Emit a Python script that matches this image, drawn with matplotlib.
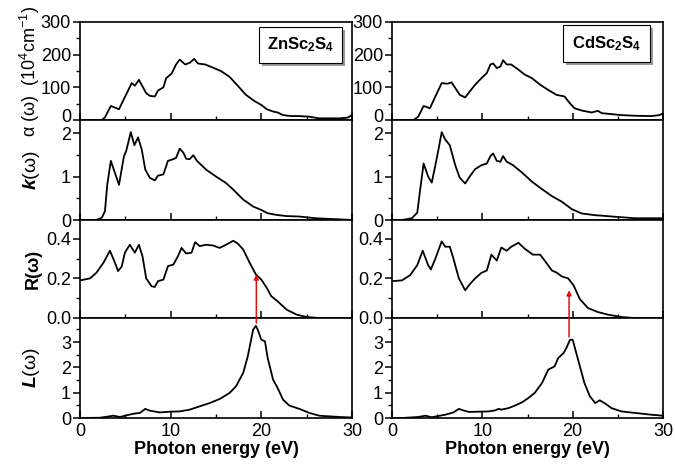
import matplotlib
matplotlib.use("Agg")
import matplotlib.pyplot as plt
import matplotlib.transforms as mtransforms
from matplotlib.patches import Rectangle, ConnectionPatch
from matplotlib.ticker import MultipleLocator, FormatStrFormatter

plt.rcParams['font.family'] = ['Liberation Sans', 'DejaVu Sans']
plt.rcParams['mathtext.fontset'] = 'custom'
plt.rcParams['mathtext.rm'] = 'Liberation Sans'
plt.rcParams['mathtext.it'] = 'Liberation Sans:italic'
plt.rcParams['mathtext.bf'] = 'Liberation Sans:bold'
plt.rcParams['mathtext.bfit'] = 'Liberation Sans:bold:italic'

# ---------------- data: ZnSc2S4 ----------------
zn_alpha_E = [0, 2.4, 2.75, 3.4, 4.3, 5.7, 6.05, 6.5, 7.3, 7.7, 8.25, 8.6, 9.2, 9.5, 10.1, 10.6, 11.0,
              11.6, 12.1, 12.6, 13.0, 13.8, 14.7, 15.6, 16.5, 17.3, 18.3, 19.3, 20.0, 20.6, 21.3, 21.8,
              22.4, 23.3, 24.2, 25.3, 26.4, 28.6, 29.5, 30]
zn_alpha = [0, 0, 8, 43, 33, 113, 105, 123, 82, 74, 72, 90, 100, 128, 142, 170, 185,
            170, 175, 187, 173, 170, 160, 149, 132, 108, 77, 57, 46, 33, 26, 23,
            15, 12, 12, 10, 5, 5, 7, 15]

zn_k_E = [0, 1.8, 2.4, 2.75, 3.0, 3.4, 4.3, 4.85, 5.1, 5.6, 6.0, 6.4, 6.8, 7.2, 7.7, 8.25, 8.6, 9.2,
          9.7, 10.3, 10.6, 11.0, 11.4, 11.7, 12.1, 12.5, 12.9, 13.9, 15.0, 16.1, 16.9, 18.0, 19.1,
          20.0, 20.7, 21.7, 22.8, 24.2, 26.0, 28.6, 30]
zn_k = [0, 0, 0.05, 0.2, 0.8, 1.36, 0.81, 1.47, 1.59, 2.02, 1.72, 1.9, 1.63, 1.16, 0.97, 0.91, 1.02, 1.05,
        1.36, 1.40, 1.43, 1.64, 1.55, 1.41, 1.40, 1.49, 1.36, 1.16, 1.0, 0.85, 0.7, 0.47, 0.31,
        0.23, 0.155, 0.116, 0.09, 0.08, 0.04, 0.015, 0.0]

zn_R_E = [0, 1.1, 1.8, 2.6, 3.3, 3.85, 4.2, 4.6, 4.95, 5.5, 6.05, 6.5, 6.9, 7.3, 7.9, 8.25, 8.6, 9.2,
          9.7, 10.3, 10.8, 11.2, 11.7, 12.3, 12.7, 13.2, 13.9, 14.7, 15.4, 16.1, 16.9, 17.4, 18.0,
          18.7, 19.4, 20.0, 20.6, 21.1, 21.8, 22.8, 23.9, 25.0, 26.4, 30]
zn_R = [0.19, 0.20, 0.228, 0.28, 0.34, 0.28, 0.237, 0.26, 0.33, 0.37, 0.33, 0.37, 0.31, 0.20, 0.16, 0.157,
        0.186, 0.194, 0.262, 0.27, 0.312, 0.354, 0.326, 0.33, 0.383, 0.363, 0.37, 0.366, 0.354, 0.37,
        0.39, 0.376, 0.346, 0.28, 0.22, 0.194, 0.152, 0.11, 0.084, 0.042, 0.017, 0.005, 0.0, 0.0]

zn_L_E = [0, 2.2, 3.7, 4.4, 5.9, 6.6, 7.2, 7.7, 8.8, 9.9, 11.0, 12.1, 13.2, 14.3, 15.4, 16.5, 17.2,
          18.0, 18.5, 19.1, 19.4, 19.6, 20.0, 20.4, 20.7, 21.3, 21.8, 22.4, 23.1, 24.2, 25.3, 26.4,
          28.6, 30]
zn_L = [0, 0.01, 0.09, 0.04, 0.17, 0.2, 0.36, 0.29, 0.22, 0.25, 0.26, 0.33, 0.46, 0.59, 0.75, 0.99, 1.25,
        1.78, 2.43, 3.49, 3.64, 3.49, 3.09, 3.03, 2.37, 1.51, 1.18, 0.72, 0.49, 0.36, 0.2, 0.09,
        0.04, 0.02]

# ---------------- data: CdSc2S4 ----------------
cd_alpha_E = [0, 2.4, 2.9, 3.5, 4.2, 4.8, 5.5, 6.1, 6.6, 7.0, 7.5, 8.1, 8.6, 9.2, 9.9, 10.5, 10.9, 11.2,
              11.6, 12.0, 12.3, 12.7, 13.2, 14.0, 14.7, 15.5, 16.4, 17.3, 18.2, 19.1, 19.7, 20.2, 21.0,
              22.1, 22.8, 23.2, 24.3, 25.4, 26.9, 28.7, 29.6, 30]
cd_alpha = [0, 0, 10, 43, 36, 72, 113, 111, 115, 98, 77, 69, 87, 108, 128, 144, 170, 173,
            159, 164, 183, 170, 170, 154, 139, 128, 108, 92, 77, 72, 51, 36, 29,
            23, 28, 21, 18, 15, 13, 12, 15, 20]

cd_k_E = [0, 1.1, 2.2, 2.8, 3.1, 3.5, 4.0, 4.4, 4.8, 5.2, 5.5, 5.9, 6.4, 7.0, 7.5, 8.1, 8.6, 9.2, 9.9,
          10.5, 10.9, 11.2, 11.6, 12.0, 12.3, 12.7, 13.4, 14.4, 15.5, 16.6, 17.7, 18.8, 19.9, 21.0,
          22.5, 23.2, 25.0, 26.9, 30]
cd_k = [0, 0, 0.04, 0.17, 0.67, 1.3, 1.0, 0.86, 1.26, 1.68, 2.02, 1.85, 1.72, 1.26, 0.97, 0.84, 1.0, 1.17,
        1.26, 1.30, 1.47, 1.53, 1.36, 1.34, 1.47, 1.34, 1.26, 1.09, 0.88, 0.71, 0.55, 0.42, 0.25, 0.15,
        0.11, 0.10, 0.07, 0.04, 0.04]

cd_R_E = [0, 1.1, 2.0, 2.8, 3.4, 4.0, 4.3, 4.8, 5.5, 5.9, 6.4, 6.8, 7.4, 8.1, 8.6, 9.2, 9.9, 10.5, 11.0,
          11.6, 12.1, 12.7, 13.2, 14.0, 14.7, 15.6, 16.4, 16.9, 17.7, 18.2, 18.8, 19.5, 20.1, 20.8,
          21.7, 22.8, 23.9, 25.4, 26.9, 30]
cd_R = [0.186, 0.19, 0.216, 0.267, 0.34, 0.267, 0.245, 0.30, 0.387, 0.36, 0.36, 0.30, 0.20, 0.14, 0.17,
        0.20, 0.228, 0.24, 0.32, 0.29, 0.356, 0.34, 0.36, 0.38, 0.35, 0.32, 0.32, 0.29, 0.24, 0.23, 0.21,
        0.20, 0.165, 0.095, 0.05, 0.03, 0.017, 0.005, 0.0, 0.0]

cd_L_E = [0, 1.1, 2.9, 3.7, 4.4, 5.9, 6.8, 7.4, 7.9, 8.5, 9.6, 10.7, 11.4, 11.8, 12.1, 12.9, 13.6, 14.4,
          15.1, 15.8, 16.6, 17.3, 18.0, 18.4, 19.0, 19.3, 19.7, 20.0, 20.2, 20.8, 21.3, 21.9, 22.5,
          23.0, 23.6, 24.3, 25.4, 26.9, 28.7, 30]
cd_L = [0, 0, 0.04, 0.09, 0.03, 0.13, 0.22, 0.36, 0.30, 0.24, 0.25, 0.26, 0.30, 0.36, 0.33, 0.39, 0.49,
        0.62, 0.79, 0.99, 1.38, 1.91, 2.04, 2.37, 2.57, 2.76, 3.09, 3.09, 2.83, 2.04, 1.38, 0.86, 0.59,
        0.70, 0.57, 0.39, 0.26, 0.20, 0.13, 0.09]

# arrows (x, y in L panel, y in R panel)
zn_arrow = (19.45, 3.75, 0.22)
cd_arrow = (19.6, 3.2, 0.14)

labels = ["ZnSc$_\\mathbf{2}$S$_\\mathbf{4}$", "CdSc$_\\mathbf{2}$S$_\\mathbf{4}$"]
xticks = [0, 10, 20, 30]

# ---------------- figure ----------------
W, H = 675, 465
fig = plt.figure(figsize=(W / 100, H / 100), dpi=100)

def fx(px):
    return px / W

def fy(py):
    return 1 - py / H

col_x = [(80, 352), (392, 663)]
rows = [(22, 120), (120, 220), (220, 318), (318, 418)]
ylims = [(0, 300), (0, 2.3), (0, 0.495), (0, 3.95)]
ymaj = [100, 1, 0.2, 1]
ymin = [50, 0.5, 0.1, 0.5]
yfmt = [None, None, '%.1f', None]

datasets = [
    [(zn_alpha_E, zn_alpha), (zn_k_E, zn_k), (zn_R_E, zn_R), (zn_L_E, zn_L)],
    [(cd_alpha_E, cd_alpha), (cd_k_E, cd_k), (cd_R_E, cd_R), (cd_L_E, cd_L)],
]
ylabels = ["\u03b1 (\u03c9)  (10$^4$cm$^{-1}$)", "$\\mathbfit{k}$(\u03c9)", "R(\u03c9)", "$\\mathbfit{L}$(\u03c9)"]
label_weight = ['normal', 'normal', 'bold', 'normal']
label_size = [13, 14, 13, 14]

FS = 13
axes = [[None] * 4 for _ in range(2)]
for c, (x0, x1) in enumerate(col_x):
    for r, (y0, y1) in enumerate(rows):
        ax = fig.add_axes([fx(x0), fy(y1), fx(x1 - x0), (y1 - y0) / H])
        axes[c][r] = ax
        E, v = datasets[c][r]
        ax.plot(E, v, color='black', lw=1.3)
        ax.set_xlim(0, 30)
        ax.set_ylim(*ylims[r])
        ax.xaxis.set_major_locator(MultipleLocator(10))
        ax.xaxis.set_minor_locator(MultipleLocator(5))
        ax.yaxis.set_major_locator(MultipleLocator(ymaj[r]))
        ax.yaxis.set_minor_locator(MultipleLocator(ymin[r]))
        if yfmt[r]:
            ax.yaxis.set_major_formatter(FormatStrFormatter(yfmt[r]))
        ax.tick_params(axis='x', which='both', direction='in', top=False, labelsize=FS)
        ax.tick_params(axis='x', which='major', length=5, width=1.1)
        ax.tick_params(axis='x', which='minor', length=3, width=1.0)
        ax.tick_params(axis='y', which='both', direction='out', right=False, labelsize=FS, pad=1.5)
        ax.tick_params(axis='y', which='major', length=5, width=1.1)
        ax.tick_params(axis='y', which='minor', length=3, width=1.0)
        for s in ax.spines.values():
            s.set_linewidth(1.2)
        if r < 3:
            ax.tick_params(axis='x', labelbottom=False)
        else:
            ax.set_xticks(xticks)
            ax.set_xlabel("Photon energy (eV)", fontsize=FS, fontweight='bold', labelpad=1)
        if c == 0:
            ax.set_ylabel(ylabels[r], fontsize=label_size[r], fontweight=label_weight[r])
            ax.yaxis.set_label_coords(-0.14, 0.5)

# nudge the "0" of the top panels up a little, as in the original
fig.canvas.draw()
for c in range(2):
    ax = axes[c][0]
    off = mtransforms.ScaledTranslation(0, 4 / 100, fig.dpi_scale_trans)
    for t in ax.yaxis.get_majorticklabels():
        if t.get_text() == '0':
            t.set_transform(t.get_transform() + off)

# legend boxes with shadow
boxes = [(0.658, 0.582, 0.305, 0.367), (0.631, 0.592, 0.321, 0.377)]
for c, (bx, by, bw, bh) in enumerate(boxes):
    ax = axes[c][0]
    ax.add_patch(Rectangle((bx + 0.012, by - 0.035), bw, bh, transform=ax.transAxes,
                           facecolor='#9a9a9a', edgecolor='none', zorder=4))
    ax.add_patch(Rectangle((bx, by), bw, bh, transform=ax.transAxes,
                           facecolor='white', edgecolor='black', lw=0.8, zorder=5))
    ax.text(bx + bw / 2, by + bh / 2, labels[c], transform=ax.transAxes, ha='center', va='center',
            fontsize=12, fontweight='bold', zorder=6)

# red arrows from L peak to R curve
for c, (ax_x, yl, yr) in enumerate([zn_arrow, cd_arrow]):
    con = ConnectionPatch(xyA=(ax_x, yl), coordsA=axes[c][3].transData,
                          xyB=(ax_x, yr), coordsB=axes[c][2].transData,
                          arrowstyle='-|>', color='#e01010', lw=1.1, mutation_scale=7, zorder=10)
    fig.add_artist(con)

fig.savefig("out.png", dpi=100)
